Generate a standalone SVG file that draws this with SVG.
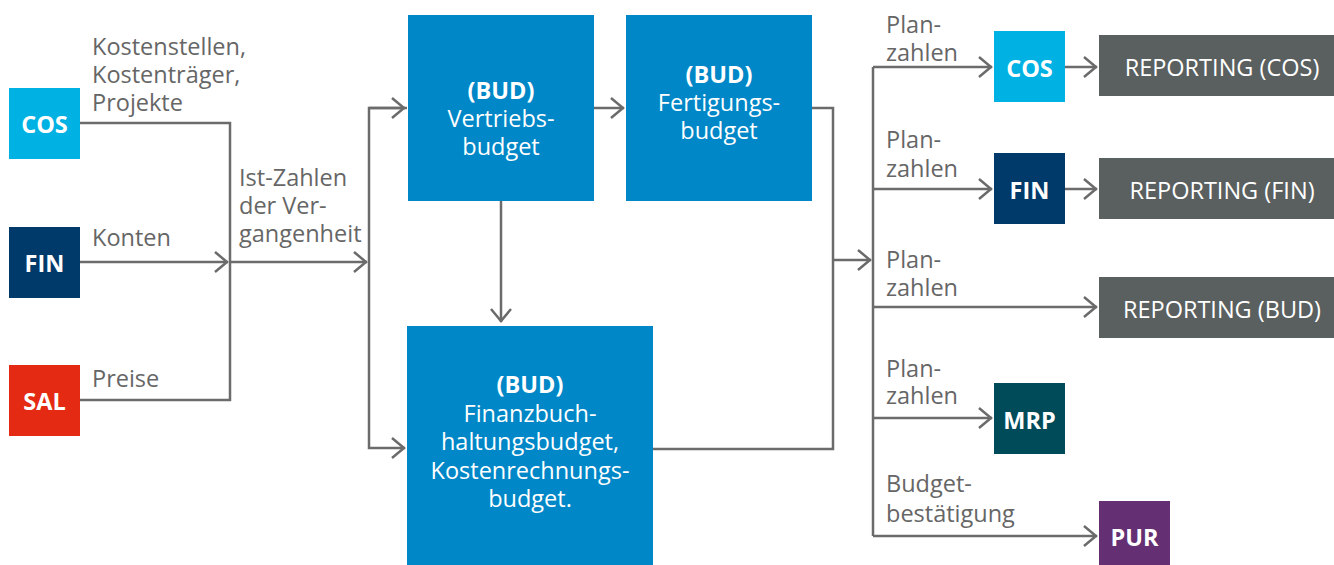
<svg xmlns="http://www.w3.org/2000/svg" width="1334" height="565" viewBox="0 0 1334 565">
  <style>
    .lbl { font-family: "Open Sans", "Noto Sans", sans-serif; font-size: 23.5px; fill: #666666; }
    .box { font-family: "Open Sans", "Noto Sans", sans-serif; font-size: 23.5px; fill: #ffffff; text-anchor: middle; }
    .b { font-weight: bold; }
    .conn { fill: none; stroke: #6b6b6b; stroke-width: 2.5; }
  </style>
  <defs>
    <marker id="arrow" markerUnits="userSpaceOnUse" markerWidth="20" markerHeight="26" refX="15" refY="12" orient="auto">
      <path d="M2,2 L14,12 L2,22" fill="none" stroke="#6b6b6b" stroke-width="2.5"/>
    </marker>
  </defs>
  <rect width="1334" height="565" fill="#ffffff"/>

  <!-- connectors -->
  <g id="connectors" class="conn">
    <path d="M80,123 H230 V400 H80"/>
    <path d="M80,262 H228" marker-end="url(#arrow)"/>
    <path d="M230,262 H367" marker-end="url(#arrow)"/>
    <path d="M407,108 H369 V448 H405" marker-end="url(#arrow)"/>
    <path d="M369,108 H405" marker-end="url(#arrow)"/>
    <path d="M594,108 H624" marker-end="url(#arrow)"/>
    <path d="M501,201 V322" marker-end="url(#arrow)"/>
    <path d="M812,108 H833 V449 H653"/>
    <path d="M833,260 H871" marker-end="url(#arrow)"/>
    <path d="M873,67 V536"/>
    <path d="M873,67 H992" marker-end="url(#arrow)"/>
    <path d="M1065,67 H1097" marker-end="url(#arrow)"/>
    <path d="M873,189 H992" marker-end="url(#arrow)"/>
    <path d="M1065,189 H1097" marker-end="url(#arrow)"/>
    <path d="M873,307 H1097" marker-end="url(#arrow)"/>
    <path d="M873,418 H992" marker-end="url(#arrow)"/>
    <path d="M873,536 H1097" marker-end="url(#arrow)"/>
  </g>

  <!-- connector labels -->
  <g id="labels" class="lbl">
    <text x="92" y="55">Kostenstellen,</text>
    <text x="92" y="83">Kostenträger,</text>
    <text x="92" y="111">Projekte</text>
    <text x="92" y="246">Konten</text>
    <text x="92" y="387">Preise</text>
    <text x="239" y="186">Ist-Zahlen</text>
    <text x="239" y="214">der Ver-</text>
    <text x="239" y="242">gangenheit</text>
    <text x="886" y="33">Plan-</text>
    <text x="886" y="61">zahlen</text>
    <text x="886" y="148">Plan-</text>
    <text x="886" y="177">zahlen</text>
    <text x="886" y="268">Plan-</text>
    <text x="886" y="296">zahlen</text>
    <text x="886" y="377">Plan-</text>
    <text x="886" y="404">zahlen</text>
    <text x="886" y="492">Budget-</text>
    <text x="886" y="522">bestätigung</text>
  </g>

  <!-- source systems -->
  <g id="src-cos">
    <rect x="9" y="88" width="71" height="71" fill="#00b2e3"/>
    <text class="box b" x="44.5" y="133">COS</text>
  </g>
  <g id="src-fin">
    <rect x="9" y="227" width="71" height="71" fill="#003a6b"/>
    <text class="box b" x="44.5" y="272">FIN</text>
  </g>
  <g id="src-sal">
    <rect x="9" y="365" width="71" height="71" fill="#e42a12"/>
    <text class="box b" x="44.5" y="410">SAL</text>
  </g>

  <!-- budget blocks -->
  <g id="bud-vertrieb">
    <rect x="408" y="15" width="186" height="186" fill="#0087c7"/>
    <text class="box" x="501" y="99"><tspan class="b">(BUD)</tspan><tspan x="501" dy="28">Vertriebs-</tspan><tspan x="501" dy="28">budget</tspan></text>
  </g>
  <g id="bud-fertigung">
    <rect x="626" y="15" width="186" height="186" fill="#0087c7"/>
    <text class="box" x="719" y="83"><tspan class="b">(BUD)</tspan><tspan x="719" dy="28">Fertigungs-</tspan><tspan x="719" dy="28">budget</tspan></text>
  </g>
  <g id="bud-finanz">
    <rect x="407" y="326" width="246" height="239" fill="#0087c7"/>
    <text class="box" x="530" y="393"><tspan class="b">(BUD)</tspan><tspan x="530" dy="28.5">Finanzbuch-</tspan><tspan x="530" dy="28.5">haltungsbudget,</tspan><tspan x="530" dy="28.5">Kostenrechnungs-</tspan><tspan x="530" dy="28.5">budget.</tspan></text>
  </g>

  <!-- target systems -->
  <g id="tgt-cos">
    <rect x="994" y="31" width="71" height="71" fill="#00b2e3"/>
    <text class="box b" x="1029.5" y="76.5">COS</text>
  </g>
  <g id="tgt-fin">
    <rect x="994" y="153" width="71" height="71" fill="#003a6b"/>
    <text class="box b" x="1029.5" y="198.5">FIN</text>
  </g>
  <g id="tgt-mrp">
    <rect x="994" y="383" width="71" height="71" fill="#004b5a"/>
    <text class="box b" x="1029.5" y="428.5">MRP</text>
  </g>
  <g id="tgt-pur">
    <rect x="1099" y="501" width="71" height="64" fill="#642f73"/>
    <text class="box b" x="1134.5" y="546">PUR</text>
  </g>

  <!-- reporting -->
  <g id="rep-cos">
    <rect x="1099" y="35" width="245" height="61" fill="#5a5f5f"/>
    <text class="box" x="1222" y="76">REPORTING (COS)</text>
  </g>
  <g id="rep-fin">
    <rect x="1099" y="158" width="245" height="61" fill="#5a5f5f"/>
    <text class="box" x="1222" y="199">REPORTING (FIN)</text>
  </g>
  <g id="rep-bud">
    <rect x="1099" y="277" width="245" height="61" fill="#5a5f5f"/>
    <text class="box" x="1222" y="318">REPORTING (BUD)</text>
  </g>
</svg>
